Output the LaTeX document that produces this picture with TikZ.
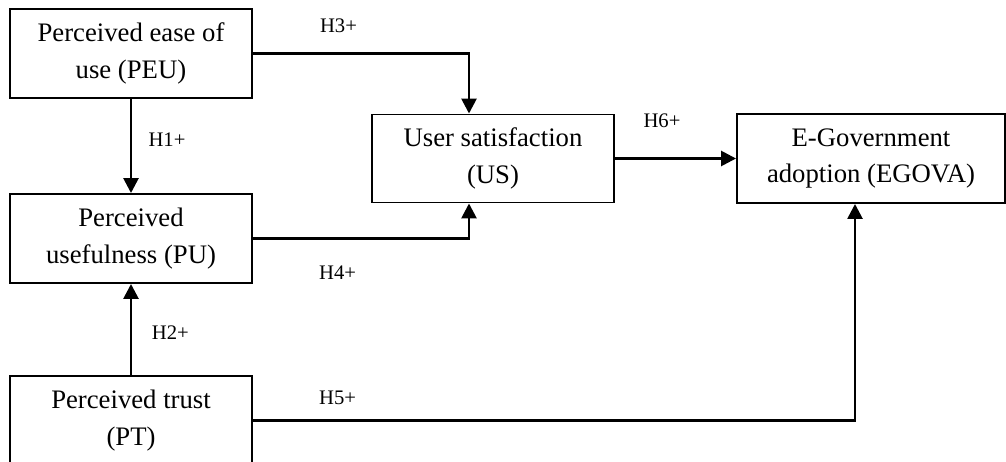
\documentclass[tikz,border=0pt]{standalone}
\usepackage{fontspec}
\setmainfont{Liberation Serif}
\usetikzlibrary{arrows.meta, positioning, calc}

\begin{document}
\begin{tikzpicture}[
    >={Triangle[length=0.37cm,width=0.37cm]},
    box/.style={draw, line width=1.4pt, align=center, fill=white, minimum width=6.05cm, minimum height=2.225cm, font=\fontsize{19}{26.3}\selectfont},
    hyp/.style={font=\fontsize{14.7}{17}\selectfont, inner sep=0pt},
    arr/.style={->, line width=1.9pt}
]
\useasboundingbox (0,0) rectangle (25.15,-11.55);

% ================= CONSTRUCTS =================
\node[box] (peu) at (3.275,-1.3375) {Perceived ease of \\ use (PEU)};
\node[box] (pu) at (3.275,-5.9625) {Perceived \\ usefulness (PU)};
\node[box] (pt) at (3.275,-10.5125) {Perceived trust \\ (PT)};
\node[box, minimum height=2.2cm] (us) at (12.325,-3.9625) {User satisfaction \\ (US)};
\node[box, minimum width=6.7cm] (egova) at (21.775,-3.9625) {E-Government \\ adoption (EGOVA)};

% entry points
\coordinate (usIn) at ($(us.north)+(-0.6,0)$);
\coordinate (usInB) at ($(us.south)+(-0.6,0)$);
\coordinate (egovaIn) at ($(egova.south)+(-0.4,0)$);

% ================= HYPOTHESES =================
\draw[arr] (peu.south) -- (pu.north);
\draw[arr] (pt.north) -- (pu.south);
\draw[arr] (peu.east) -| (usIn);
\draw[arr] (pu.east) -| (usInB);
\draw[arr] (us.east) -- (egova.west);
\draw[arr] (pt.east) -| (egovaIn);

% labels
\node[hyp] (h1) at (4.175,-3.5) {H1+};
\node[hyp] (h2) at (4.26,-8.325) {H2+};
\node[hyp] (h3) at (8.4625,-0.65) {H3+};
\node[hyp] (h4) at (8.44,-6.825) {H4+};
\node[hyp] (h5) at (8.44,-9.95) {H5+};
\node[hyp] (h6) at (16.55,-3.025) {H6+};

\end{tikzpicture}
\end{document}
